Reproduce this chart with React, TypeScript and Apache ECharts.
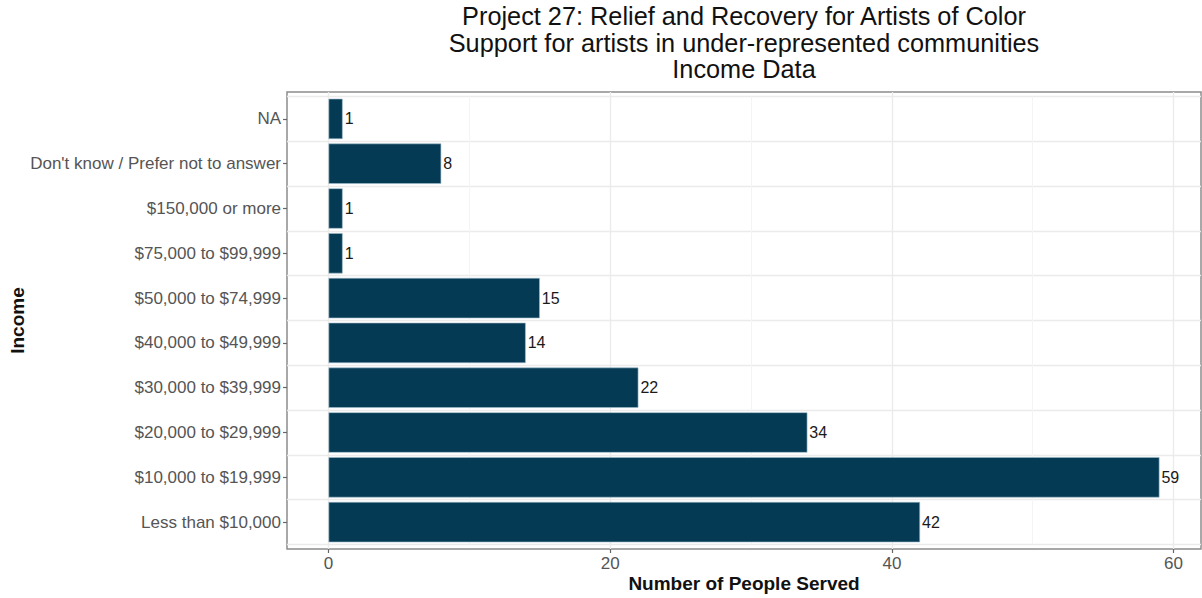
import React, { useEffect, useRef } from "react";
import * as echarts from "echarts";

const categories = [
  "Less than $10,000",
  "$10,000 to $19,999",
  "$20,000 to $29,999",
  "$30,000 to $39,999",
  "$40,000 to $49,999",
  "$50,000 to $74,999",
  "$75,000 to $99,999",
  "$150,000 or more",
  "Don't know / Prefer not to answer",
  "NA",
];
const counts = [42, 59, 34, 22, 14, 15, 1, 1, 8, 1];
const xTicks = [0, 20, 40, 60];
const xMinorTicks = [10, 30, 50];
const titleLines = [
  "Project 27: Relief and Recovery for Artists of Color",
  "Support for artists in under-represented communities",
  "Income Data",
];

const FONT = "'Liberation Sans', Arial, sans-serif";

// panel geometry (ggplot-like expansion: 0.6 category units on each side)
const PANEL = { left: 287, top: 92, width: 914, height: 457 };
const nCat = categories.length;
const unit = PANEL.height / (nCat + 0.2);
const inner = 0.1 * unit;

export default function App() {
  const ref = useRef<HTMLDivElement>(null);
  useEffect(() => {
    if (!ref.current) return;
    const chart = echarts.init(ref.current, undefined, { renderer: "svg" });
    const maxV = Math.max(...counts);
    const xMin = -0.05 * maxV;
    const xMax = 1.05 * maxV;
    chart.setOption({
      animation: false,
      backgroundColor: "#ffffff",
      textStyle: { fontFamily: FONT },
      graphic: [
        {
          type: "text",
          x: PANEL.left + PANEL.width / 2,
          y: 3,
          style: {
            text: titleLines.join("\n"),
            textAlign: "center",
            font: `25.3px ${FONT}`,
            lineHeight: 26.5,
            fill: "#111111",
          },
        },
      ],
      grid: [
        {
          left: PANEL.left,
          top: PANEL.top,
          width: PANEL.width,
          height: PANEL.height,
          show: true,
          containLabel: false,
          outerBoundsMode: "none",
          borderColor: "#8c8c8c",
          borderWidth: 1.5,
          backgroundColor: "#ffffff",
        },
        {
          left: PANEL.left,
          top: PANEL.top + inner,
          width: PANEL.width,
          height: PANEL.height - 2 * inner,
          containLabel: false,
          outerBoundsMode: "none",
        },
      ],
      xAxis: [
        {
          type: "value",
          gridIndex: 0,
          min: xMin,
          max: xMax,
          name: "Number of People Served",
          nameLocation: "middle",
          nameGap: 25,
          nameMoveOverlap: false,
          nameTextStyle: { fontFamily: FONT, fontSize: 19, fontWeight: "bold", color: "#111" },
          axisLine: { show: false, onZero: false },
          axisTick: { show: true, customValues: xTicks, length: 4, lineStyle: { color: "#666", width: 1.2 } },
          axisLabel: { customValues: xTicks, fontSize: 17, color: "#555", margin: 6, fontFamily: FONT },
          splitLine: { show: true, lineStyle: { color: "#ebebeb", width: 1.3 } },
        },
        {
          type: "value",
          gridIndex: 1,
          min: xMin,
          max: xMax,
          show: false,
        },
      ],
      yAxis: [
        {
          type: "value",
          gridIndex: 0,
          min: 0,
          max: 1,
          show: false,
        },
        {
          type: "category",
          gridIndex: 1,
          data: categories,
          name: "Income",
          nameLocation: "middle",
          nameGap: 260,
          nameMoveOverlap: false,
          nameRotate: 90,
          nameTextStyle: { fontFamily: FONT, fontSize: 19, fontWeight: "bold", color: "#111" },
          axisLine: { show: false, onZero: false },
          axisTick: { show: true, alignWithLabel: true, length: 4, lineStyle: { color: "#666", width: 1.2 } },
          axisLabel: { fontSize: 17, color: "#555", margin: 6, fontFamily: FONT },
          splitLine: { show: true, lineStyle: { color: "#ebebeb", width: 1.3 } },
        },
      ],
      series: [
        {
          type: "bar",
          xAxisIndex: 1,
          yAxisIndex: 1,
          data: counts,
          barCategoryGap: "10%",
          itemStyle: { color: "#053a54", borderColor: "#9dbccb", borderWidth: 0.6 },
          label: {
            show: true,
            position: "right",
            distance: 2,
            fontSize: 16,
            color: "#1a1a1a",
            fontFamily: FONT,
          },
          markLine: {
            silent: true,
            symbol: "none",
            label: { show: false },
            lineStyle: { color: "#f4f4f4", width: 1, type: "solid" },
            data: xMinorTicks.map((v) => ({ xAxis: v })),
            z: 0,
          },
          z: 3,
        },
      ],
    });
    return () => chart.dispose();
  }, []);
  return (
    <div
      ref={ref}
      style={{ position: "absolute", left: 0, top: 0, width: 1202, height: 598 }}
    />
  );
}
